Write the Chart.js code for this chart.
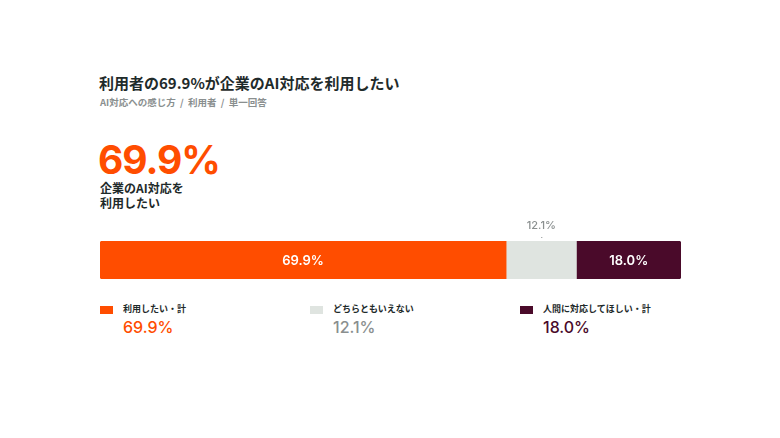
<!DOCTYPE html>
<html><head><meta charset="utf-8">
<script src="https://cdn.jsdelivr.net/npm/chart.js@4/dist/chart.umd.min.js"></script>
<style>
body{margin:0;width:780px;height:438px;background:#fff;font-family:"Noto Sans CJK JP","Noto Sans",sans-serif;position:relative;overflow:hidden;color:#1e2a2a}
.a{position:absolute;white-space:nowrap}
#wrap{position:absolute;left:100px;top:211px;width:581px;height:68px}
.sw{position:absolute;width:13px;height:8px}
</style></head><body>
<div class="a" style="left:99px;top:73px;font-size:15px;font-weight:700;color:#1f2b2b;line-height:20px">利用者の69.9%が企業のAI対応を利用したい</div>
<div class="a" style="left:100px;top:96px;font-size:9.5px;font-weight:700;color:#8a8f8f;line-height:13px">AI対応への感じ方 &nbsp;/&nbsp; 利用者 &nbsp;/&nbsp; 単一回答</div>
<div class="a" style="left:98px;top:140px;font-size:39px;font-weight:700;color:#ff4d00;line-height:40px;font-family:Inter,'Noto Sans',sans-serif;letter-spacing:-1px">69.9%</div>
<div class="a" style="left:100px;top:180px;font-size:12px;font-weight:700;line-height:15px">企業のAI対応を<br>利用したい</div>
<div id="wrap"><canvas id="c"></canvas></div>
<div id="leg"></div>
<script>
const categories=['利用したい・計','どちらともいえない','人間に対応してほしい・計'];
const values=[69.9,12.1,18.0];
const colors=['#ff4d00','#dfe4e0','#4a0a2a'];
const labelColors=['#fff','#8a8f8f','#fff'];
const legendColors=['#ff4d00','#8a8f8f','#4a0a2a'];
const legendX=[100,310,520];
let h='';
categories.forEach((c,i)=>{
 h+=`<div class="sw" style="left:${legendX[i]}px;top:306px;background:${colors[i]}"></div>`+
 `<div class="a" style="left:${legendX[i]+23}px;top:302px;font-size:9px;font-weight:700;line-height:13px">${c}</div>`+
 `<div class="a" style="left:${legendX[i]+23}px;top:317px;font-size:16px;font-weight:500;line-height:20px;color:${legendColors[i]};font-family:Inter,'Noto Sans',sans-serif">${values[i].toFixed(1)}%</div>`;
});
document.getElementById('leg').innerHTML=h;
const lbl={id:'lbl',afterDatasetsDraw(ch){
 const ctx=ch.ctx;ctx.save();
 ch.data.datasets.forEach((d,i)=>{
  const el=ch.getDatasetMeta(i).data[0];
  const cx=(el.x+el.base)/2;
  ctx.textAlign='center';ctx.textBaseline='middle';
  ctx.font='600 13px Inter, "Noto Sans", sans-serif';
  if(i===1){ctx.fillStyle='#8a8f8f';ctx.font='500 11px Inter, "Noto Sans", sans-serif';ctx.fillText(values[i].toFixed(1)+'%',cx,el.y-el.height/2-15);
   ctx.fillRect(cx,el.y-el.height/2-4,1,1);}
  else{ctx.fillStyle=labelColors[i];ctx.fillText(values[i].toFixed(1)+'%',cx,el.y+1);}
 });
 ctx.restore();}};
new Chart(document.getElementById('c'),{type:'bar',
 data:{labels:[''],datasets:values.map((v,i)=>({label:categories[i],data:[v],backgroundColor:colors[i],
  borderSkipped:false,borderRadius:i===0?{topLeft:3,bottomLeft:3}:i===2?{topRight:3,bottomRight:3}:0,
  barPercentage:1,categoryPercentage:1}))},
 options:{indexAxis:'y',responsive:true,maintainAspectRatio:false,animation:false,
  layout:{padding:{top:30,left:0,right:0,bottom:0}},
  plugins:{legend:{display:false},tooltip:{enabled:false}},
  scales:{x:{stacked:true,display:false,min:0,max:100},y:{stacked:true,display:false}}},
 plugins:[lbl]});
</script></body></html>
